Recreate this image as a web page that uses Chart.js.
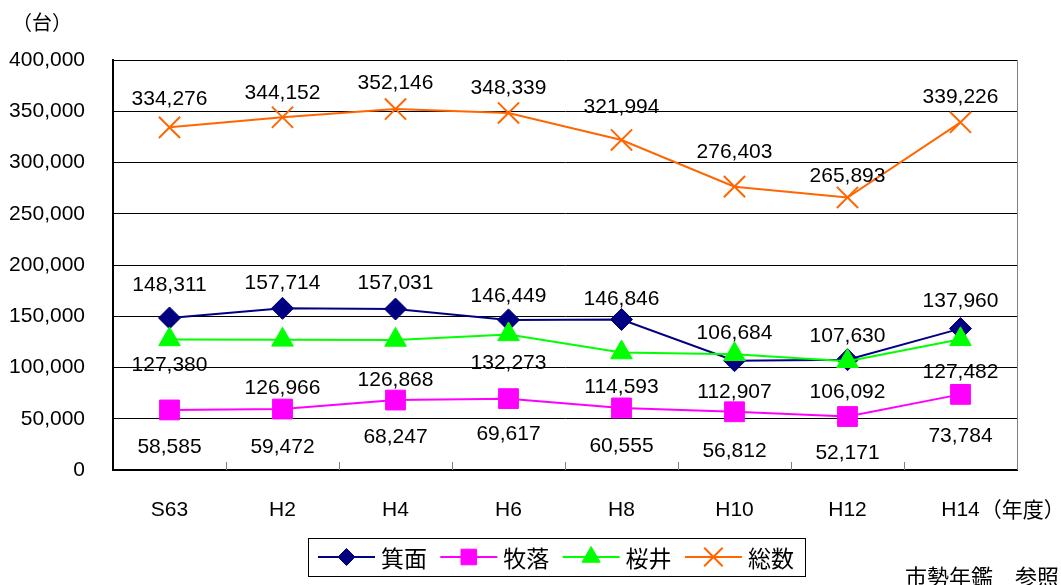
<!DOCTYPE html>
<html>
<head>
<meta charset="utf-8">
<script src="https://cdn.jsdelivr.net/npm/chart.js@4.4.1/dist/chart.umd.min.js"></script>
<style>
  html, body { margin: 0; padding: 0; background: #fff; }
  canvas { display: block; }
</style>
</head>
<body>
<canvas id="lineChart" width="1061" height="585"></canvas>
<script>
// 年度
var years = ["S63", "H2", "H4", "H6", "H8", "H10", "H12", "H14"];
// 地区別の台数
var minoo = [148311, 157714, 157031, 146449, 146846, 106684, 107630, 137960];
var makiochi = [58585, 59472, 68247, 69617, 60555, 56812, 52171, 73784];
var sakurai = [127380, 126966, 126868, 132273, 114593, 112907, 106092, 127482];
var total = [334276, 344152, 352146, 348339, 321994, 276403, 265893, 339226];

// value label offset from each point (px, + = below)
var shiftMinoo = [-33, -25, -26, -24, -20, -27, -23, -27];
var shiftMakiochi = [37, 38, 37, 36, 38, 39, 37, 42];
var shiftSakurai = [26, 48, 40, 29, 35, 38, 31, 33];
var shiftTotal = [-28, -24, -26, -25, -33, -34, -21, -25];

var NUM_FONT = "'Liberation Sans', Arial, sans-serif";
var JP_FONT = "'Noto Sans CJK JP', 'Liberation Sans', sans-serif";

function fmt(v) {
  return v.toLocaleString("en-US");
}

// value labels next to the points
var valueLabels = {
  id: "valueLabels",
  afterDatasetsDraw: function (chart) {
    var ctx = chart.ctx;
    ctx.save();
    ctx.font = "21px " + NUM_FONT;
    ctx.fillStyle = "#000";
    ctx.textAlign = "center";
    ctx.textBaseline = "middle";
    chart.data.datasets.forEach(function (ds, di) {
      var meta = chart.getDatasetMeta(di);
      meta.data.forEach(function (pt, i) {
        ctx.fillText(fmt(ds.data[i]), pt.x, pt.y + ds.labelShift[i]);
      });
    });
    ctx.restore();
  }
};

// frame, inner tick marks, unit texts and the legend box
var frameAndLegend = {
  id: "frameAndLegend",
  beforeDatasetsDraw: function (chart) {
    var ctx = chart.ctx;
    var a = chart.chartArea;
    var xs = chart.scales.x;
    ctx.save();
    ctx.strokeStyle = "#808080";
    ctx.lineWidth = 1;
    ctx.beginPath();
    ctx.moveTo(a.right + 0.5, a.top);
    ctx.lineTo(a.right + 0.5, a.bottom);
    // tick marks between categories, pointing up
    for (var i = 1; i < years.length; i++) {
      var x = Math.round((xs.getPixelForValue(i - 1) + xs.getPixelForValue(i)) / 2) + 0.5;
      ctx.moveTo(x, a.bottom);
      ctx.lineTo(x, a.bottom - 8);
    }
    ctx.stroke();
    ctx.restore();
  },
  afterDraw: function (chart) {
    var ctx = chart.ctx;
    var xs = chart.scales.x;
    ctx.save();
    ctx.fillStyle = "#000";
    ctx.textBaseline = "middle";

    ctx.font = "20px " + JP_FONT;
    ctx.textAlign = "left";
    ctx.fillText("（台）", 12, 22);

    ctx.font = "21px " + NUM_FONT;
    var lastX = xs.getPixelForValue(years.length - 1);
    var half = ctx.measureText(years[years.length - 1]).width / 2;
    ctx.font = "21px " + JP_FONT;
    ctx.fillText("（年度）", lastX + half + 1, 509);

    ctx.font = "22px " + JP_FONT;
    ctx.fillText("市勢年鑑　参照", 905, 577);

    // legend
    var boxL = 308, boxT = 538, boxW = 497, boxH = 38;
    ctx.strokeStyle = "#000";
    ctx.lineWidth = 1;
    ctx.strokeRect(boxL + 0.5, boxT + 0.5, boxW, boxH);
    var cy = boxT + boxH / 2;
    var legendRadius = [8.5, 11, 10.5, 13];
    chart.data.datasets.forEach(function (ds, di) {
      var x0 = boxL + 10 + di * 122.3;
      ctx.strokeStyle = ds.borderColor;
      ctx.fillStyle = ds.borderColor;
      ctx.lineWidth = 2;
      ctx.beginPath();
      ctx.moveTo(x0, cy);
      ctx.lineTo(x0 + 57, cy);
      ctx.stroke();
      ctx.lineWidth = ds.pointBorderWidth;
      Chart.helpers.drawPoint(ctx, {
        pointStyle: ds.pointStyle,
        radius: legendRadius[di],
        rotation: 0,
        borderWidth: ds.pointBorderWidth
      }, x0 + 28.5, cy);
      ctx.fillStyle = "#000";
      ctx.font = "23px " + JP_FONT;
      ctx.textAlign = "left";
      ctx.fillText(ds.label, x0 + 63, cy + 1);
    });
    ctx.restore();
  }
};

function series(label, data, color, style, radius, shift, order) {
  return {
    label: label,
    data: data,
    borderColor: color,
    backgroundColor: color,
    borderWidth: 2,
    pointStyle: style,
    pointRadius: radius,
    pointHoverRadius: radius,
    pointBorderWidth: style === "crossRot" ? 2 : 1,
    pointBackgroundColor: color,
    pointBorderColor: color,
    tension: 0,
    order: order,
    labelShift: shift
  };
}

var ctx = document.getElementById("lineChart").getContext("2d");
var lineChart = new Chart(ctx, {
  type: "line",
  data: {
    labels: years,
    datasets: [
      series("箕面", minoo, "#000080", "rectRot", 11, shiftMinoo, 1),
      series("牧落", makiochi, "#FF00FF", "rect", 14, shiftMakiochi, 1),
      series("桜井", sakurai, "#00FF00", "triangle", 12.5, shiftSakurai, 0),
      series("総数", total, "#FF6600", "crossRot", 15, shiftTotal, 1)
    ]
  },
  options: {
    responsive: false,
    animation: false,
    layout: {
      padding: { left: 0, top: 60, right: 44, bottom: 55 }
    },
    scales: {
      x: {
        offset: true,
        grid: { display: false },
        border: { display: true, color: "#000", width: 2 },
        ticks: {
          color: "#000",
          padding: 20,
          font: { family: NUM_FONT, size: 21 }
        },
        afterFit: function (scale) {
          scale.height = 60;
        }
      },
      y: {
        min: 0,
        max: 400000,
        grid: { color: "#000", lineWidth: 1, drawTicks: false },
        border: { display: true, color: "#000", width: 2 },
        ticks: {
          stepSize: 50000,
          color: "#000",
          padding: 28,
          font: { family: NUM_FONT, size: 21 },
          callback: function (v) { return fmt(v); }
        },
        afterFit: function (scale) {
          scale.width = 113;
        }
      }
    },
    plugins: {
      legend: { display: false },
      tooltip: { enabled: false }
    }
  },
  plugins: [frameAndLegend, valueLabels]
});
</script>
</body>
</html>
